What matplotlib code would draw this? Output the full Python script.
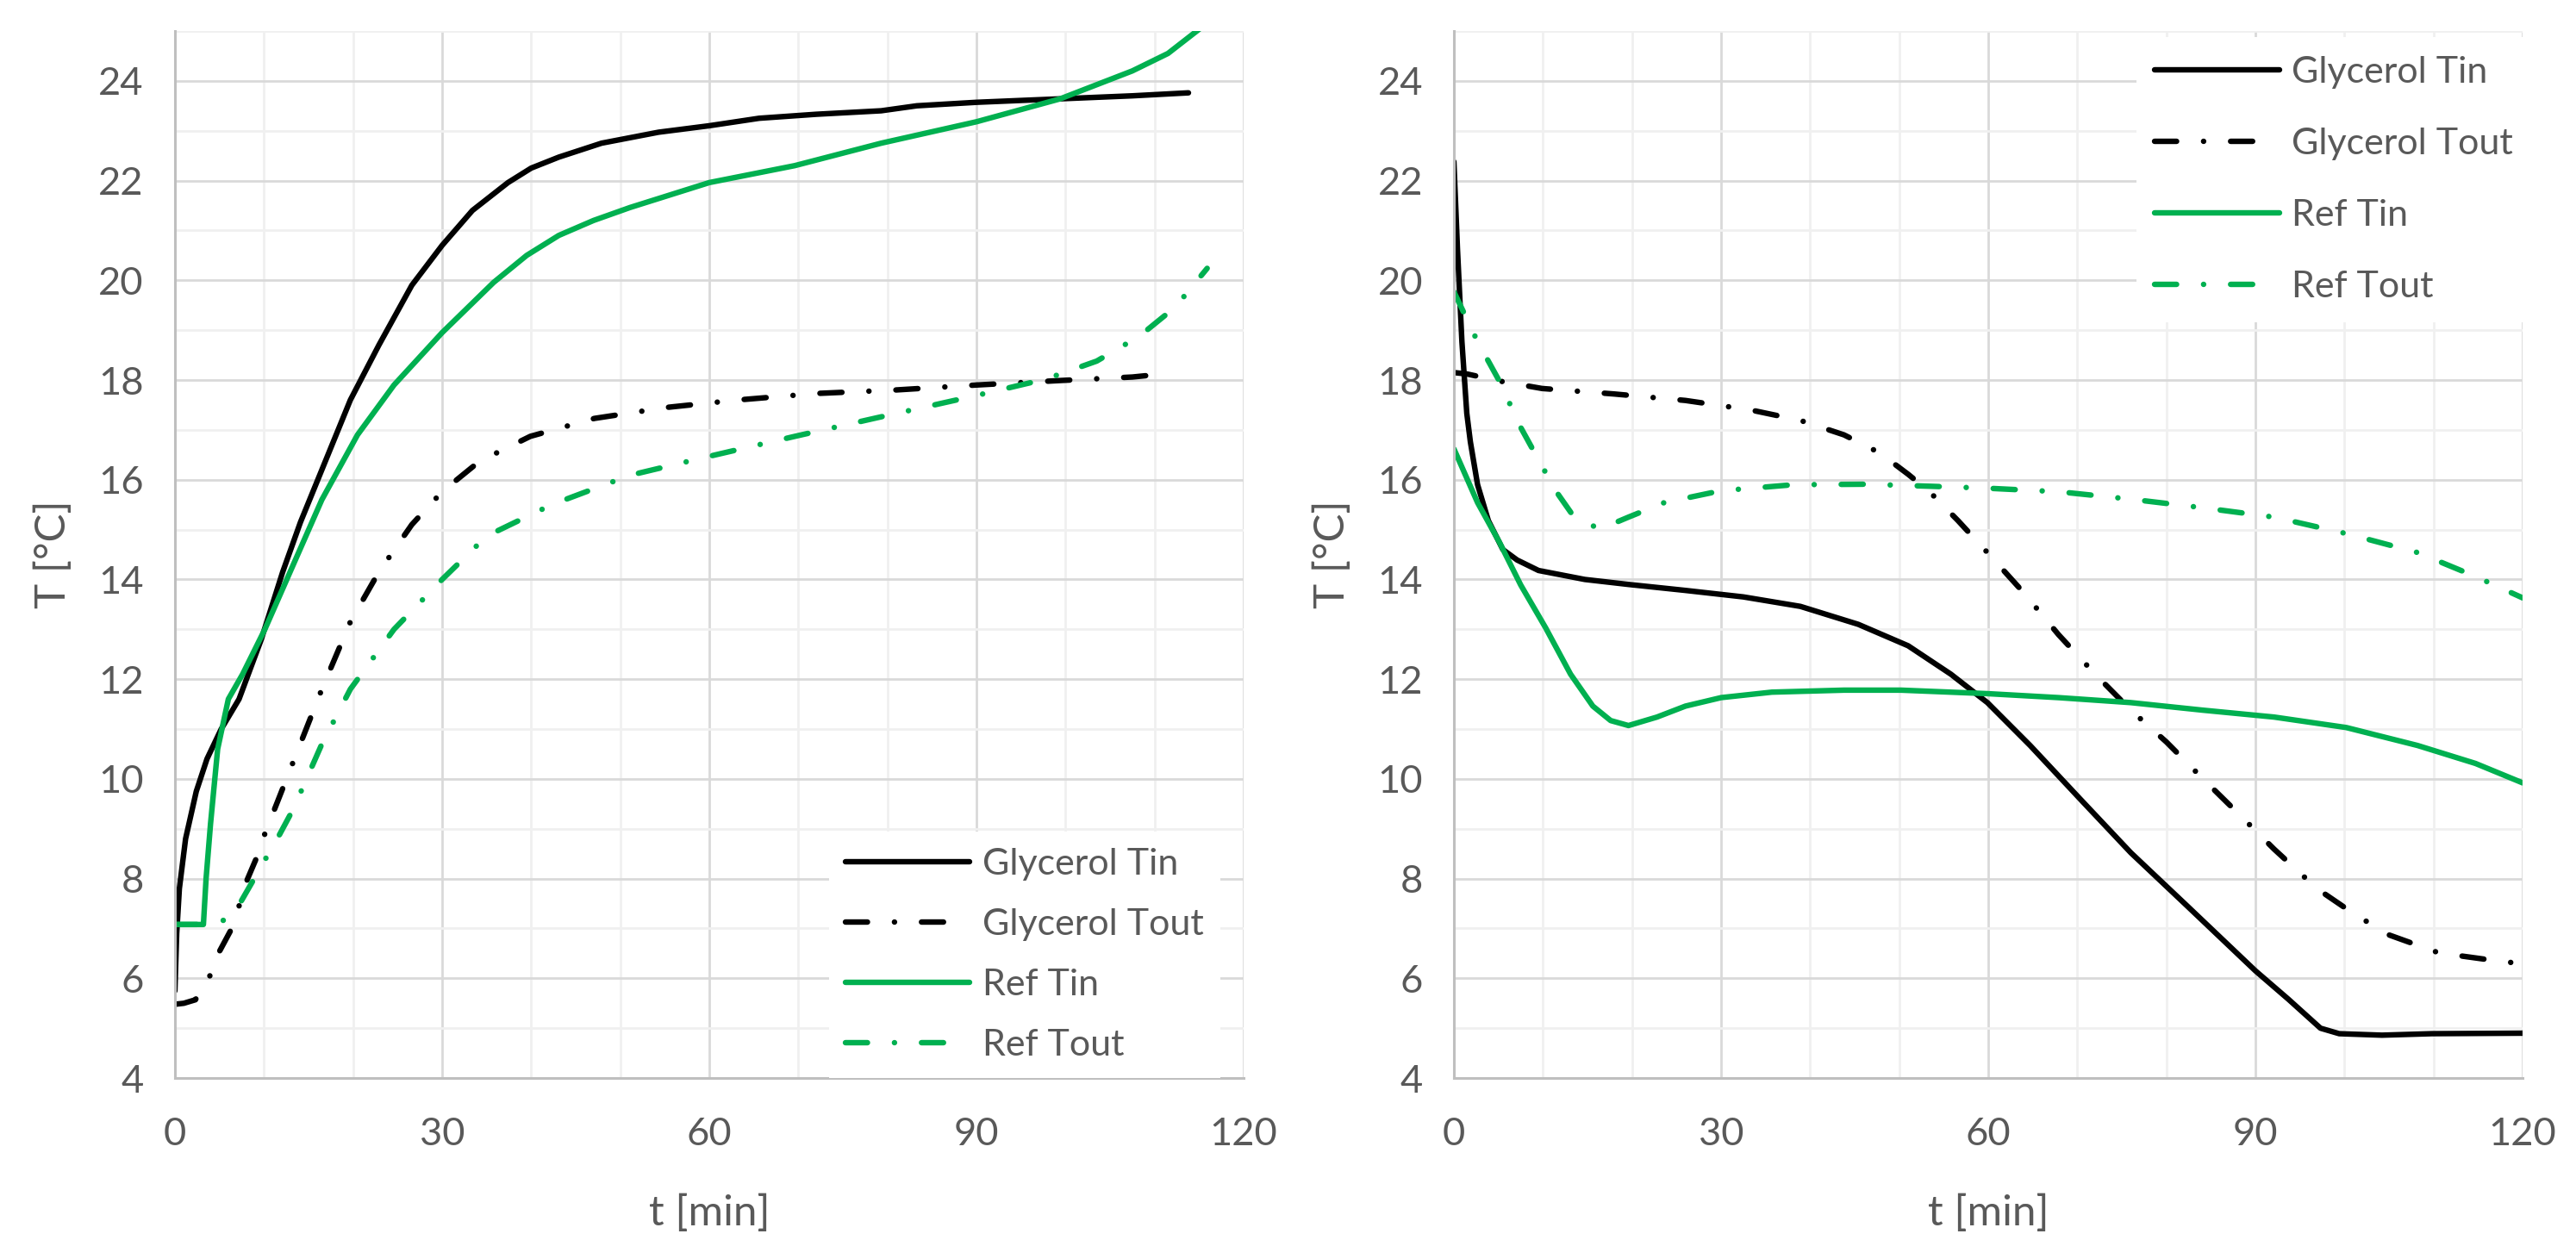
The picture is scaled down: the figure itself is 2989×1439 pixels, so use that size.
import numpy as np
import matplotlib
matplotlib.use("Agg")
from matplotlib import pyplot as plt
from matplotlib.ticker import MultipleLocator

plt.rcParams['font.family'] = ['Lato', 'DejaVu Sans']

# heating run (left)
heat_gly_tin_t = [0, 0.2, 0.5, 1.2, 2.4, 3.6, 5.2, 7.2, 9.7, 12.1, 14.1, 16.5, 19.7, 22.9, 26.6, 30,
                  33.4, 37.4, 40, 43.1, 47.9, 54.3, 60, 65.6, 72, 79.3, 83.3, 90, 99.4, 107.5, 113.8]
heat_gly_tin = [5.75, 6.9, 7.8, 8.8, 9.75, 10.4, 11.0, 11.6, 12.8, 14.15, 15.15, 16.2, 17.6, 18.7, 19.9, 20.7,
                21.4, 21.96, 22.25, 22.47, 22.75, 22.97, 23.1, 23.25, 23.33, 23.4, 23.5, 23.57, 23.64, 23.7, 23.76]

heat_gly_tout_t = [0, 1.0, 2.3, 3.9, 5.0, 6.2, 7.2, 8.1, 9.1, 10.1, 13.3, 16.5, 19.7, 22.9, 26.6, 30,
                   34.2, 39.9, 47.1, 55.2, 63.2, 72, 80.9, 90, 99.4, 107.5, 112]
heat_gly_tout = [5.48, 5.5, 5.57, 6.04, 6.54, 6.94, 7.45, 7.97, 8.39, 8.9, 10.35, 11.8, 13.15, 14.15, 15.1, 15.76,
                 16.37, 16.87, 17.23, 17.45, 17.6, 17.73, 17.8, 17.9, 17.99, 18.06, 18.14]

heat_ref_tin_t = [0, 3.2, 3.5, 4.0, 4.8, 6.0, 7.6, 10.1, 13.3, 16.5, 20.5, 24.6, 30, 35.8, 39.5, 43.1, 47, 51.1,
                  60, 69.6, 79.3, 90, 99.4, 107.5, 111.5, 115.1, 116.5]
heat_ref_tin = [7.08, 7.08, 8.0, 9.1, 10.6, 11.6, 12.1, 13.0, 14.3, 15.6, 16.9, 17.9, 18.95, 19.96, 20.5, 20.9,
                21.2, 21.46, 21.96, 22.3, 22.75, 23.18, 23.64, 24.2, 24.55, 25.05, 25.3]

heat_ref_tout_t = [0, 3.5, 5.0, 5.8, 7.45, 8.9, 11.8, 13.3, 16.5, 19.7, 24.6, 30, 35, 42.3, 51.1, 60,
                   69.6, 78.5, 90, 97.8, 103.5, 108.3, 112.3, 115.9]
heat_ref_tout = [7.08, 7.08, 7.12, 7.2, 7.55, 8.0, 8.9, 9.4, 10.7, 11.8, 13.0, 14.0, 14.87, 15.5, 16.09, 16.47,
                 16.87, 17.23, 17.69, 18.02, 18.38, 18.88, 19.46, 20.24]

# cooling run (right)
cool_gly_tin_t = [0, 0.4, 0.9, 1.45, 1.85, 2.66, 3.87, 5.5, 7.1, 9.5, 14.7, 19.6, 26, 32.5, 38.9, 45.4,
                  51, 55.8, 59.9, 64.7, 70.3, 76, 82.4, 90, 93.7, 97.3, 99.4, 104.2, 109.8, 120]
cool_gly_tin = [22.38, 20.63, 18.77, 17.33, 16.76, 15.9, 15.18, 14.6, 14.39, 14.18, 14.0, 13.9, 13.78, 13.65,
                13.46, 13.1, 12.67, 12.1, 11.53, 10.67, 9.6, 8.52, 7.44, 6.15, 5.58, 5.0, 4.89, 4.86, 4.89, 4.9]

cool_gly_tout_t = [0, 1.5, 5.1, 9.9, 18, 26, 33.3, 38.9, 43.8, 47.8, 51, 53.4, 56.6, 59.9, 63.9, 67.9,
                   72, 76, 80, 84, 88.1, 92.1, 96.9, 101, 105, 110.6, 116.3, 120]
cool_gly_tout = [18.15, 18.12, 17.98, 17.83, 17.72, 17.59, 17.4, 17.19, 16.9, 16.54, 16.11, 15.76, 15.18, 14.54,
                 13.75, 12.89, 12.1, 11.38, 10.74, 10.02, 9.3, 8.59, 7.8, 7.3, 6.87, 6.51, 6.37, 6.29]

cool_ref_tin_t = [0, 2.66, 5.1, 7.5, 10.3, 13.1, 15.6, 17.6, 19.6, 22.8, 26, 30, 35.7, 43.8, 50.2, 59.9,
                  67.9, 76, 84, 92.1, 100.2, 108.2, 114.7, 120]
cool_ref_tin = [16.62, 15.54, 14.75, 13.89, 13.03, 12.1, 11.46, 11.17, 11.07, 11.24, 11.46, 11.63, 11.74, 11.78,
                11.78, 11.71, 11.63, 11.53, 11.38, 11.24, 11.03, 10.67, 10.31, 9.92]

cool_ref_tout_t = [0, 2.66, 5.1, 7.5, 9.5, 11.5, 13.5, 16.4, 19.6, 23.6, 30, 38.1, 46.2, 53.4, 59.9, 67.9,
                   76, 84, 92.1, 100.2, 108.2, 114.7, 120]
cool_ref_tout = [19.77, 18.77, 17.98, 17.05, 16.4, 15.76, 15.25, 15.01, 15.25, 15.54, 15.78, 15.9, 15.91, 15.87,
                 15.83, 15.76, 15.61, 15.44, 15.25, 14.92, 14.54, 14.06, 13.63]

labels = ['Glycerol Tin', 'Glycerol Tout', 'Ref Tin', 'Ref Tout']
green = '#00B050'
txt = '#595959'
lw = 2.3
dd = (4, 4.9, 0.01, 4.9)

fig = plt.figure(figsize=(2989 / 200, 1439 / 200), dpi=200)
ax1 = fig.add_axes([0.0679, 0.1306, 0.4149, 0.8444])
ax2 = fig.add_axes([0.5644, 0.1306, 0.4149, 0.8444])


def draw(ax, data):
    (t1, y1), (t2, y2), (t3, y3), (t4, y4) = data
    ax.plot(t1, y1, color='black', lw=lw, solid_capstyle='round', solid_joinstyle='round', label=labels[0])
    ax.plot(t2, y2, color='black', lw=lw, dashes=dd, dash_capstyle='round', label=labels[1])
    ax.plot(t3, y3, color=green, lw=lw, solid_capstyle='round', solid_joinstyle='round', label=labels[2])
    ax.plot(t4, y4, color=green, lw=lw, dashes=dd, dash_capstyle='round', label=labels[3])

    ax.set_xlim(0, 120)
    ax.set_ylim(4, 25)
    ax.xaxis.set_major_locator(MultipleLocator(30))
    ax.xaxis.set_minor_locator(MultipleLocator(10))
    ax.yaxis.set_major_locator(MultipleLocator(2))
    ax.yaxis.set_minor_locator(MultipleLocator(1))
    ax.grid(which='major', color='#D9D9D9', lw=1.0)
    ax.grid(which='minor', color='#F0F0F0', lw=1.0)
    ax.set_axisbelow(True)
    ax.tick_params(which='both', length=0, labelsize=16.3, labelcolor=txt)
    ax.tick_params(axis='x', pad=16)
    ax.tick_params(axis='y', pad=13)
    for s in ['top', 'right']:
        ax.spines[s].set_visible(False)
    for s in ['left', 'bottom']:
        ax.spines[s].set_color('#BFBFBF')
        ax.spines[s].set_linewidth(1.1)
    ax.set_xlabel('t [min]', fontsize=17.8, color=txt, va='center')
    ax.set_ylabel('T [°C]', fontsize=17.8, color=txt, va='center')
    ax.xaxis.set_label_coords(0.5, -0.129)
    ax.yaxis.set_label_coords(-0.114, 0.5)


draw(ax1, [(heat_gly_tin_t, heat_gly_tin), (heat_gly_tout_t, heat_gly_tout),
           (heat_ref_tin_t, heat_ref_tin), (heat_ref_tout_t, heat_ref_tout)])
draw(ax2, [(cool_gly_tin_t, cool_gly_tin), (cool_gly_tout_t, cool_gly_tout),
           (cool_ref_tin_t, cool_ref_tin), (cool_ref_tout_t, cool_ref_tout)])

leg1 = ax1.legend(loc='lower right', bbox_to_anchor=(0.978, 0.0), borderaxespad=0, borderpad=0.45,
                  handlelength=3.35, handletextpad=0.33, labelspacing=0.74, fontsize=15.5,
                  frameon=True, fancybox=False, framealpha=1, facecolor='white', edgecolor='none')
leg2 = ax2.legend(loc='upper right', bbox_to_anchor=(1.008, 0.994), borderaxespad=0, borderpad=0.5,
                  handlelength=3.35, handletextpad=0.33, labelspacing=1.05, fontsize=15.5,
                  frameon=True, fancybox=False, framealpha=1, facecolor='white', edgecolor='none')
for leg in (leg1, leg2):
    for t in leg.get_texts():
        t.set_color(txt)

fig.savefig('out.png', dpi=200, facecolor='white')
